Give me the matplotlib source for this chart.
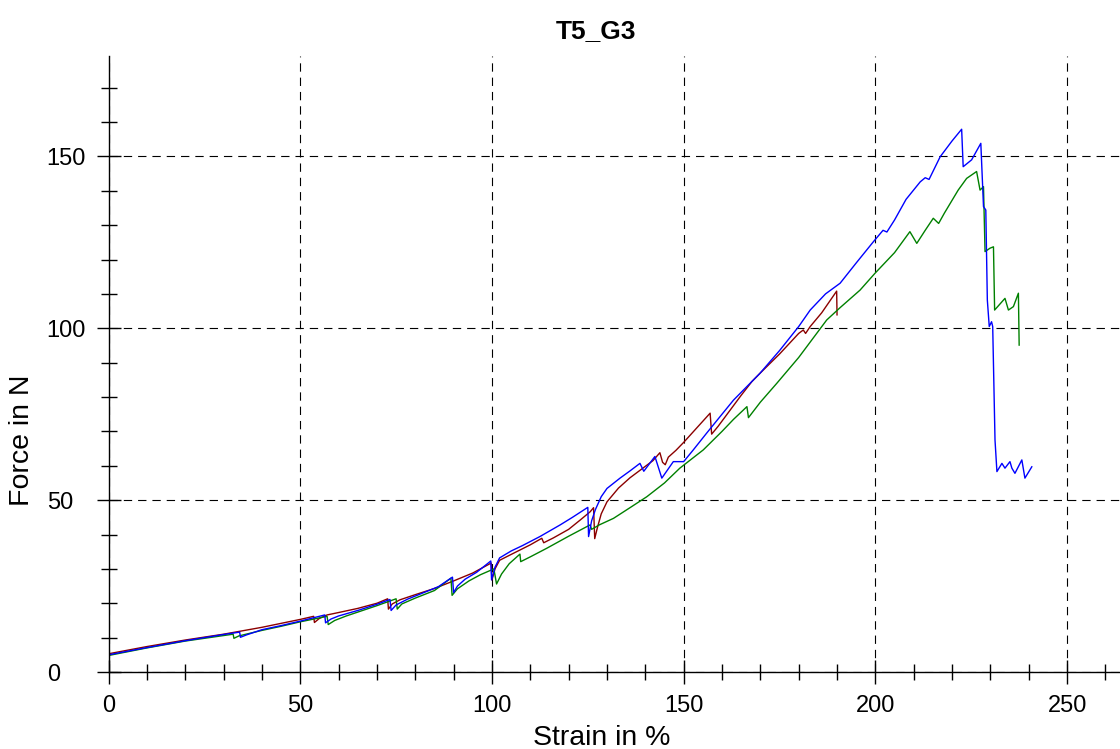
import numpy as np
import matplotlib.pyplot as plt
import matplotlib
from matplotlib.ticker import MultipleLocator

matplotlib.rcParams['font.family'] = ['Liberation Sans', 'DejaVu Sans']
matplotlib.rcParams['lines.scale_dashes'] = False

# strain in %, force in N
red_x = [0, 10, 20, 30, 40, 50, 53.5, 53.7, 55, 57, 60, 65, 70, 72.8, 73.0, 74, 76, 80, 85, 90, 95,
         99.8, 100.0, 100.8, 102, 105, 110, 113, 113.5, 116, 120, 123, 125.6, 126.5, 126.8, 127.5,
         128.5, 130, 133, 136, 139, 142, 143.8, 144.5, 145.2, 146, 148, 150, 153, 156.9, 157.3,
         159, 162, 165, 167.8, 170, 175, 180, 181.2, 181.8, 183, 186, 189.9, 190.0]
red_y = [5.3, 7.4, 9.3, 11.0, 13.0, 15.3, 16.2, 14.4, 15.6, 16.6, 17.3, 18.5, 20.0, 21.3, 18.3, 19.8,
         21.0, 22.5, 24.3, 26.5, 28.8, 31.7, 26.8, 30.0, 32.5, 34.2, 37.0, 38.9, 37.6, 39.0, 41.5,
         44.2, 46.6, 47.8, 38.8, 42.0, 46.0, 49.5, 53.5, 56.5, 59.0, 61.5, 63.8, 61.0, 60.3, 62.5,
         64.5, 66.8, 70.5, 75.3, 69.2, 71.5, 76.0, 80.5, 84.5, 87.0, 92.5, 98.5, 99.5, 98.5, 100.5,
         104.5, 110.8, 103.9]

blue_x = [0, 10, 20, 30, 34.2, 34.4, 36, 40, 45, 50, 56.4, 56.6, 58, 60, 65, 70, 73.4, 73.7, 75, 78,
          82, 86, 89.7, 90.0, 91, 93, 96, 99.7, 99.9, 100.8, 102, 105, 108, 112.5, 117.8, 121,
          125.0, 125.2, 126, 127, 128.5, 130, 133.4, 136, 138.6, 139.6, 142.5, 144.3, 147.3, 150,
          152.5, 156, 160, 163, 169.9, 175, 180, 183, 187, 190.8, 195, 199.5, 202, 203, 205,
          208, 211.7, 213, 214, 216.9, 220, 222.5, 222.9, 225.1, 227.5, 228.2, 228.8, 229.2,
          229.7, 230.3, 230.6, 231.2, 231.7, 233.0, 233.8, 235.1, 235.6, 236.4, 238.2, 239.0,
          240.8]
blue_y = [5.0, 7.1, 9.1, 10.9, 11.6, 10.1, 10.8, 12.3, 13.5, 14.8, 16.6, 14.3, 15.4, 16.3, 17.9,
          19.7, 21.1, 17.9, 19.5, 21.2, 23.0, 24.8, 27.6, 23.1, 25.0, 27.0, 29.0, 32.3, 26.8, 30.5,
          33.2, 35.2, 36.8, 39.4, 42.8, 45.0, 47.9, 39.4, 44.0, 47.3, 51.0, 53.4, 56.4, 58.5, 60.7,
          58.4, 62.7, 56.4, 61.2, 61.2, 64.6, 69.5, 75.0, 79.1, 86.9, 93.5, 100.5, 105.3, 110.0,
          113.1, 119.0, 125.2, 128.5, 128.0, 131.5, 137.5, 142.6, 143.8, 143.3, 149.9, 154.5,
          157.9, 147.0, 149.0, 153.8, 135.4, 134.4, 108.2, 100.5, 101.9, 100.5, 67.5, 58.3, 60.7,
          59.3, 61.2, 59.3, 57.8, 61.7, 56.4, 59.7]

green_x = [0, 10, 20, 30, 32.5, 32.7, 34, 40, 45, 50, 57, 57.3, 59, 62, 66, 70, 75.0, 75.3, 76.5,
           80, 85, 89.3, 89.6, 91, 94, 97, 100.5, 101.2, 102.5, 104.5, 107.3, 107.5, 110, 114.3,
           120, 125.6, 126.0, 128, 131.7, 136, 140.4, 145, 149, 155.1, 160, 163, 166.5, 166.9, 170,
           174.3, 180, 187.3, 190.8, 196, 199.9, 205, 209, 210.8, 213, 215.1, 216.5, 218, 221.6,
           223.8, 226.4, 227.3, 228.2, 228.6, 229.9, 230.8, 231.1, 233.8, 234.7, 236.0, 237.3,
           237.5]
green_y = [4.8, 7.0, 9.0, 10.6, 11.0, 9.8, 10.5, 12.1, 13.3, 14.6, 16.2, 13.8, 15.0, 16.3, 17.8,
           19.3, 21.3, 18.3, 19.8, 21.5, 23.7, 27.3, 22.3, 24.2, 26.5, 28.3, 30.0, 25.6, 28.5, 31.5,
           34.3, 32.1, 33.5, 36.0, 39.5, 42.8, 41.5, 42.8, 44.7, 47.8, 51.0, 55.0, 59.3, 64.6, 70.0,
           73.5, 77.2, 74.0, 78.5, 84.0, 91.5, 102.4, 106.0, 111.1, 116.0, 122.0, 128.1, 124.7,
           128.5, 132.0, 130.5, 133.5, 140.2, 143.6, 145.6, 140.2, 141.2, 122.3, 123.3, 123.7,
           105.3, 108.7, 105.3, 106.3, 110.2, 95.1]

fig = plt.figure(figsize=(11.2, 7.49), dpi=100)
ax = fig.add_axes([0.0969, 0.1028, 0.9031, 0.8224])

ax.plot(red_x, red_y, color='#8b0000', lw=1.0)
ax.plot(green_x, green_y, color='#008000', lw=1.0)
ax.plot(blue_x, blue_y, color='#0000ff', lw=1.0)

ax.set_xlim(0, 263.8)
ax.set_ylim(0, 179.2)
ax.xaxis.set_major_locator(MultipleLocator(50))
ax.xaxis.set_minor_locator(MultipleLocator(10))
ax.yaxis.set_major_locator(MultipleLocator(50))
ax.yaxis.set_minor_locator(MultipleLocator(10))

ax.grid(True, which='major', color='black', linestyle=(0, (6, 4.3)), lw=0.8)
ax.set_axisbelow(True)

for s in ['top', 'right']:
    ax.spines[s].set_visible(False)
for s in ['left', 'bottom']:
    ax.spines[s].set_linewidth(1.0)
    ax.spines[s].set_color('black')

ax.tick_params(which='major', direction='inout', length=17, width=1, labelsize=17, pad=8)
ax.tick_params(axis='y', which='major', pad=36)
ax.tick_params(which='minor', direction='inout', length=11, width=1)
plt.setp(ax.get_yticklabels(), ha='left')

ax.set_xlabel('Strain in %', fontsize=20.5)
ax.xaxis.set_label_coords(0.488, -0.107)
ax.xaxis.label.set_va('center')
ax.set_ylabel('Force in N', fontsize=20.5)
ax.yaxis.set_label_coords(-0.0855, 0.377)
ax.yaxis.label.set_va('center')
ax.set_title('T5_G3', fontsize=19, fontweight='bold', x=0.482, pad=13)

plt.savefig('out.png', dpi=100)
